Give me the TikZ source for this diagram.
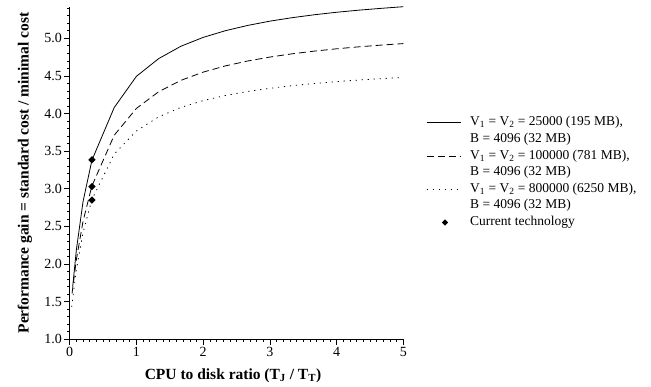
\documentclass[tikz,border=0pt]{standalone}
\usepackage{fontspec}
\setmainfont{Liberation Serif}
\usetikzlibrary{shapes.geometric}
\tikzset{
  curveA/.style={line width=0.8pt},
  curveB/.style={line width=0.8pt, dash pattern=on 7pt off 4pt},
  curveC/.style={line width=0.8pt, dash pattern=on 1.2pt off 4.8pt},
  diam/.style={diamond, fill=black, inner sep=0pt, minimum size=7.5pt},
  axisline/.style={line width=0.7pt},
  ticklab/.style={font=\fontsize{14}{16}\selectfont, inner sep=1.5pt},
  legtext/.style={font=\fontsize{13.5}{16}\selectfont, anchor=west, inner sep=0pt},
  axtitle/.style={font=\fontsize{15.5}{18}\selectfont\bfseries, inner sep=0pt}
}
\begin{document}
\begin{tikzpicture}[x=1pt,y=1pt]
\useasboundingbox (0,0) rectangle (651,387);
\begin{scope}[x=66.75pt,y=75.25pt,shift={(69.7pt,-27.55pt)}]
  % axes
  \coordinate (o) at (0,1);
  \coordinate (xe) at (5,1);
  \coordinate (ye) at (0,5.41);
  \draw[axisline] (o) -- (xe);
  \draw[axisline] (o) -- (ye);
  \foreach \i in {0,...,50} \draw[axisline] (\i/10,1) -- ++(0,-3pt);
  \foreach \i in {0,...,5} \draw[axisline] (\i,1) -- ++(0,-6pt) node[ticklab, below] (xl\i) {\i};
  \foreach \i in {10,...,54} \draw[axisline] (0,\i/10) -- ++(-3pt,0);
  \foreach \v/\t in {1/1.0,1.5/1.5,2/2.0,2.5/2.5,3/3.0,3.5/3.5,4/4.0,4.5/4.5,5/5.0}
    \draw[axisline] (0,\v) -- ++(-6pt,0) node[ticklab, left] (yl\t) {\t};
  % curves
  \draw[curveA] (0.045,1.70) -- (0.1,2.19) -- (0.2,2.83) -- (0.333,3.38) -- (0.667,4.08)
    -- (1,4.495) -- (1.333,4.73) -- (1.667,4.895) -- (2,5.012) -- (2.333,5.101)
    -- (2.667,5.171) -- (3,5.228) -- (3.333,5.274) -- (3.667,5.313) -- (4,5.346)
    -- (4.333,5.374) -- (4.667,5.398) -- (5,5.42);
  \draw[curveB] plot[samples at={0.035,0.1,0.2,0.333,0.667,1,1.333,1.667,2,2.333,2.667,3,3.333,3.667,4,4.333,4.667,5}]
    (\x,{5.236-1.661/(\x+0.4229)});
  \draw[curveC] plot[samples at={0.03,0.1,0.2,0.333,0.667,1,1.333,1.667,2,2.333,2.667,3,3.333,3.667,4,4.333,4.667,5}]
    (\x,{4.7228-1.3027/(\x+0.3656)});
  % current technology
  \node[diam] (d1) at (0.333,3.385) {};
  \node[diam] (d2) at (0.333,3.03) {};
  \node[diam] (d3) at (0.333,2.85) {};
\end{scope}
% titles
\node[axtitle] (xt) at (233,11) {CPU to disk ratio (T\textsubscript{J} / T\textsubscript{T})};
\node[axtitle, rotate=90] (yt) at (25,214) {Performance gain = standard cost / minimal cost};
% legend
\coordinate (la1) at (426.7,264.5); \coordinate (lb1) at (460.7,264.5);
\coordinate (la2) at (426.7,231); \coordinate (lb2) at (460.7,231);
\coordinate (la3) at (426.7,198); \coordinate (lb3) at (460.7,198);
\draw[curveA] (la1) -- (lb1);
\draw[curveB] (la2) -- (lb2);
\draw[curveC] (la3) -- (lb3);
\node[legtext] (t1) at (470,264.5) {V\textsubscript{1} = V\textsubscript{2} = 25000 (195 MB),};
\node[legtext] (t2) at (470,248) {B = 4096 (32 MB)};
\node[legtext] (t3) at (470,231) {V\textsubscript{1} = V\textsubscript{2} = 100000 (781 MB),};
\node[legtext] (t4) at (470,214.5) {B = 4096 (32 MB)};
\node[legtext] (t5) at (470,198) {V\textsubscript{1} = V\textsubscript{2} = 800000 (6250 MB),};
\node[legtext] (t6) at (470,181.5) {B = 4096 (32 MB)};
\node[diam, minimum size=6.5pt] (ld) at (445,164.5) {};
\node[legtext] (t7) at (470,164.5) {Current technology};
\end{tikzpicture}
\end{document}
